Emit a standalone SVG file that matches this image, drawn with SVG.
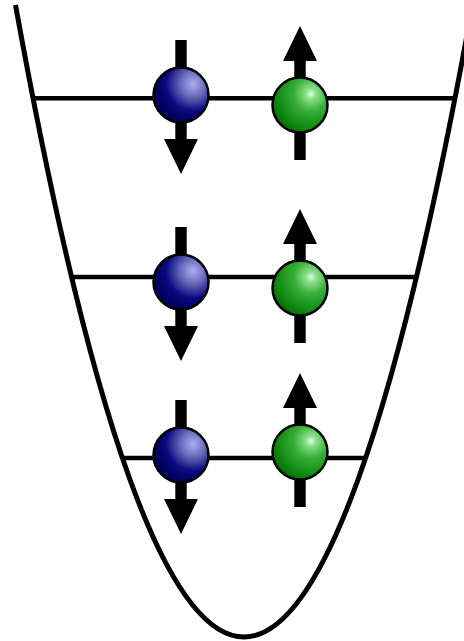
<svg xmlns="http://www.w3.org/2000/svg" width="464" height="641" viewBox="0 0 464 641">
<defs>
<radialGradient id="blue" cx="0.72" cy="0.3" r="0.68" fx="0.72" fy="0.3">
<stop offset="0" stop-color="#aeaef2"/>
<stop offset="0.35" stop-color="#6666b8"/>
<stop offset="0.72" stop-color="#0a0a80"/>
<stop offset="1" stop-color="#00005e"/>
</radialGradient>
<radialGradient id="green" cx="0.7" cy="0.3" r="0.78" fx="0.7" fy="0.3">
<stop offset="0" stop-color="#e4fbe4"/>
<stop offset="0.12" stop-color="#8ce08c"/>
<stop offset="0.4" stop-color="#38ae38"/>
<stop offset="0.8" stop-color="#0f880f"/>
<stop offset="1" stop-color="#056a05"/>
</radialGradient>
<path id="down" d="M-5.700 0H5.700V99H17L0 134L-17 99H-5.700Z"/>
<path id="up" d="M-5.700 0H5.700V-99H17L0 -134L-17 -99H-5.700Z"/>
</defs>
<style>
.well{fill:none;stroke:#000;stroke-width:5}
.level{stroke:#000;stroke-width:4.500}
.b{fill:url(#blue);stroke:#000;stroke-width:2.500}
.g{fill:url(#green);stroke:#000;stroke-width:2.500}
</style>
<rect width="464" height="641" fill="#fff"/>
<g id="connectors">
<path class="well" d="M15.500 5Q244 1269 472.500 5"/>
<line class="level" x1="32" y1="98.300" x2="455" y2="98.300"/>
<line class="level" x1="72" y1="277" x2="415" y2="277"/>
<line class="level" x1="122" y1="458" x2="364" y2="458"/>
</g>
<g id="down1"><use href="#down" x="181" y="40"/><circle class="b" cx="181" cy="95" r="27.500"/></g>
<g id="up1"><use href="#up" x="300" y="160"/><circle class="g" cx="300" cy="105" r="27.500"/></g>
<g id="down2"><use href="#down" x="181" y="227"/><circle class="b" cx="181" cy="282" r="27.500"/></g>
<g id="up2"><use href="#up" x="300" y="343"/><circle class="g" cx="300" cy="288" r="27.500"/></g>
<g id="down3"><use href="#down" x="181" y="400"/><circle class="b" cx="181" cy="455" r="27.500"/></g>
<g id="up3"><use href="#up" x="300" y="507"/><circle class="g" cx="300" cy="452" r="27.500"/></g>
</svg>
